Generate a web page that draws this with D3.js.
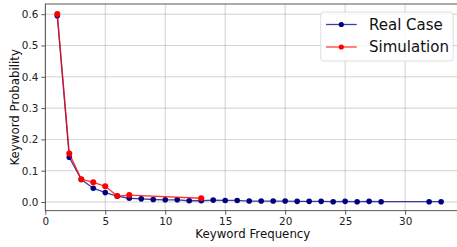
<!DOCTYPE html>
<html>
<head>
<meta charset="utf-8">
<script src="https://cdn.jsdelivr.net/npm/d3@7"></script>
<style>
  body { margin: 0; background: #fff; }
  svg { display: block; font-family: "DejaVu Sans", sans-serif; }
</style>
</head>
<body>
<svg id="chart"></svg>
<script>
// data
var realX = [1,2,3,4,5,6,7,8,9,10,11,12,13,14,15,16,17,18,19,20,21,22,23,24,25,26,27,28,32,33];
var realY = [0.595,0.143,0.072,0.044,0.030,0.019,0.012,0.010,0.008,0.007,0.007,0.004,0.004,0.006,0.005,0.005,0.003,0.003,0.003,0.003,0.002,0.002,0.002,0.001,0.002,0.001,0.002,0.001,0.001,0.001];
var simX = [1,2,3,4,5,6,7,13];
var simY = [0.601,0.155,0.073,0.063,0.050,0.019,0.022,0.012];
var xTicks = [0,5,10,15,20,25,30];
var yTicks = [0.0,0.1,0.2,0.3,0.4,0.5,0.6];

var W = 457, H = 247;
var margin = {top: 4, left: 45.3},
    width = 415,
    height = 206.7;

var svg = d3.select("#chart").attr("width", W).attr("height", H);
var g = svg.append("g").attr("transform", "translate(" + margin.left + "," + margin.top + ")");

var x = d3.scaleLinear().domain([0, 34.6]).range([0, width]);
var y = d3.scaleLinear().domain([-0.0278, 0.6326]).range([height, 0]);

// grid
g.selectAll(".gx").data(xTicks).enter().append("line")
  .attr("x1", function(d) { return x(d); }).attr("x2", function(d) { return x(d); })
  .attr("y1", 0).attr("y2", height)
  .attr("stroke", "#b0b0b0").attr("stroke-width", 0.8).attr("opacity", 0.7);
g.selectAll(".gy").data(yTicks).enter().append("line")
  .attr("x1", 0).attr("x2", width)
  .attr("y1", function(d) { return y(d); }).attr("y2", function(d) { return y(d); })
  .attr("stroke", "#b0b0b0").attr("stroke-width", 0.8).attr("opacity", 0.7);

// axes
var xAxis = g.append("g").attr("transform", "translate(0," + height + ")")
  .call(d3.axisBottom(x).tickValues(xTicks).tickFormat(d3.format("d")).tickSize(4).tickPadding(3));
var yAxis = g.append("g")
  .call(d3.axisLeft(y).tickValues(yTicks).tickFormat(d3.format(".1f")).tickSize(4).tickPadding(3));
[xAxis, yAxis].forEach(function(a) {
  a.selectAll("text").attr("font-size", 10.4).attr("fill", "#222").attr("font-family", "DejaVu Sans");
  a.selectAll("line").attr("stroke", "#333").attr("stroke-width", 0.8);
  a.select(".domain").remove();
});

// spines
g.append("rect").attr("x", 0).attr("y", 0).attr("width", width).attr("height", height)
  .attr("fill", "none").attr("stroke", "#333").attr("stroke-width", 0.8);

var line = d3.line().x(function(d) { return x(d[0]); }).y(function(d) { return y(d[1]); });

var realData = d3.zip(realX, realY);
var simData = d3.zip(simX, simY);

g.append("path").datum(realData).attr("d", line)
  .attr("fill", "none").attr("stroke", "navy").attr("stroke-width", 1.3).attr("opacity", 0.75);
g.selectAll(".rdot").data(realData).enter().append("circle")
  .attr("cx", function(d) { return x(d[0]); }).attr("cy", function(d) { return y(d[1]); })
  .attr("r", 2.8).attr("fill", "navy");

g.append("path").datum(simData).attr("d", line)
  .attr("fill", "none").attr("stroke", "red").attr("stroke-width", 1.3).attr("opacity", 0.8);
g.selectAll(".sdot").data(simData).enter().append("circle")
  .attr("cx", function(d) { return x(d[0]); }).attr("cy", function(d) { return y(d[1]); })
  .attr("r", 3).attr("fill", "red");

// axis labels
svg.append("text").attr("x", margin.left + x(17.3)).attr("y", 238)
  .attr("text-anchor", "middle").attr("font-size", 11.8).attr("fill", "#111")
  .text("Keyword Frequency");
svg.append("text").attr("transform", "translate(19," + (margin.top + height / 2) + ") rotate(-90)")
  .attr("text-anchor", "middle").attr("font-size", 11.8).attr("fill", "#111")
  .text("Keyword Probability");

// legend
var leg = svg.append("g");
leg.append("rect").attr("x", 320.7).attr("y", 12).attr("width", 132.5).attr("height", 49)
  .attr("rx", 3).attr("fill", "#fff").attr("fill-opacity", 0.8)
  .attr("stroke", "#d6d6d6").attr("stroke-width", 0.8);
var items = [{name: "Real Case", c: "navy", y: 24.5}, {name: "Simulation", c: "red", y: 47}];
items.forEach(function(it) {
  leg.append("line").attr("x1", 326).attr("x2", 356.7).attr("y1", it.y).attr("y2", it.y)
    .attr("stroke", it.c).attr("stroke-width", 1.3).attr("opacity", 0.75);
  leg.append("circle").attr("cx", 341.3).attr("cy", it.y).attr("r", 2.6).attr("fill", it.c);
  leg.append("text").attr("x", 369).attr("y", it.y).attr("dy", "0.36em")
    .attr("font-size", 15).attr("fill", "#111").text(it.name);
});
</script>
</body>
</html>
